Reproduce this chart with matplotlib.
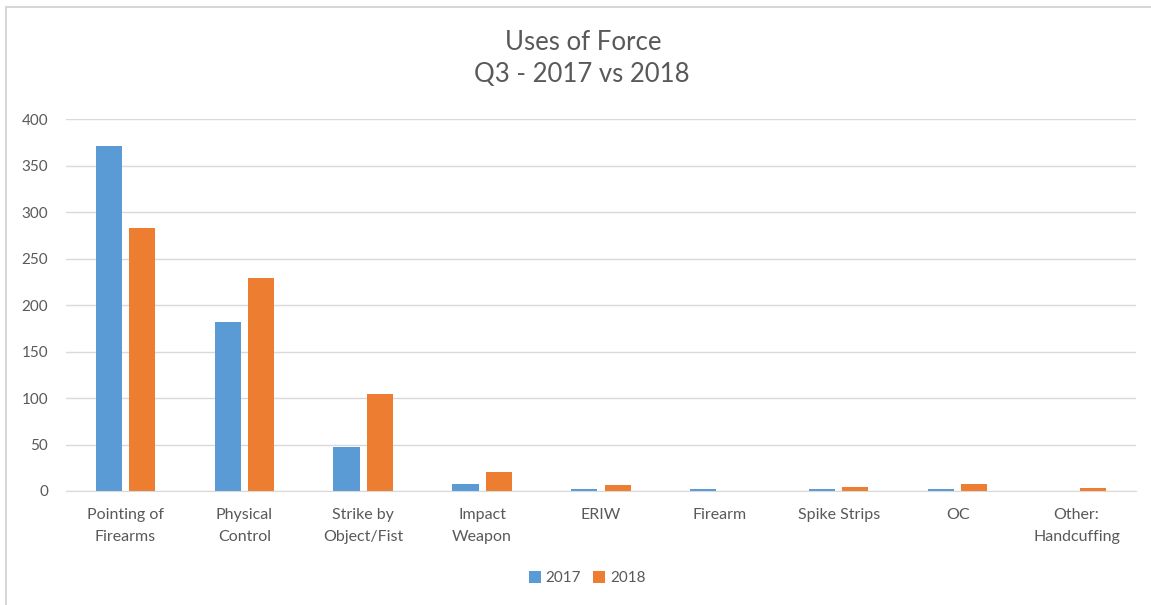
import matplotlib

matplotlib.use("Agg")
import matplotlib.pyplot as plt
import numpy as np
from matplotlib.patches import Rectangle

categories = [
    "Pointing of\nFirearms",
    "Physical\nControl",
    "Strike by\nObject/Fist",
    "Impact\nWeapon",
    "ERIW",
    "Firearm",
    "Spike Strips",
    "OC",
    "Other:\nHandcuffing",
]
values_2017 = [371, 182, 47, 7, 2, 2, 2, 2, 0]
values_2018 = [283, 229, 104, 20, 6, 0, 4, 7, 3]
series_names = ["2017", "2018"]
y_ticks = [0, 50, 100, 150, 200, 250, 300, 350, 400]

BLUE = "#5B9BD5"
ORANGE = "#ED7D31"
TEXT = "#595959"
GRID = "#D9D9D9"

plt.rcParams["font.family"] = ["Lato", "DejaVu Sans"]

fig = plt.figure(figsize=(11.51, 6.05), dpi=100)
fig.patches.append(
    Rectangle((6 / 1151, -0.05), 1.1, 1 - 7 / 605 + 0.05, transform=fig.transFigure,
              fill=False, edgecolor="#D0D0D0", linewidth=1.2)
)

ax = fig.add_axes([66 / 1151, 1 - 491 / 605, 1070 / 1151, 372 / 605])
x = np.arange(len(categories))
width = 0.22
b1 = ax.bar(x - 0.14, values_2017, width, color=BLUE, label=series_names[0])
b2 = ax.bar(x + 0.14, values_2018, width, color=ORANGE, label=series_names[1])

ax.set_xlim(-0.5, len(categories) - 0.5)
ax.set_ylim(0, 400)
ax.set_yticks(y_ticks)
ax.set_xticks(x)
ax.set_xticklabels(categories, linespacing=1.75)
ax.tick_params(axis="y", length=0, pad=13, labelsize=11, labelcolor=TEXT)
ax.tick_params(axis="x", length=0, pad=12, labelsize=11.5, labelcolor=TEXT)
ax.grid(axis="y", color=GRID, linewidth=1)
ax.set_axisbelow(True)
for side in ["top", "right", "left"]:
    ax.spines[side].set_visible(False)
ax.spines["bottom"].set_color(GRID)

fig.text(583 / 1151, 1 - 42 / 605, "Uses of Force", ha="center", va="center",
         fontsize=18.5, color=TEXT)
fig.text(582 / 1151, 1 - 75 / 605, "Q3 - 2017 vs 2018", ha="center", va="center",
         fontsize=18.5, color=TEXT)

fig.legend(handles=[b1, b2], loc="center", bbox_to_anchor=(587 / 1151, 1 - 578 / 605),
           ncol=2, frameon=False, fontsize=11, labelcolor=TEXT, handlelength=0.8,
           handleheight=0.8, handletextpad=0.3, columnspacing=0.8)

fig.savefig("out.png", dpi=100)
